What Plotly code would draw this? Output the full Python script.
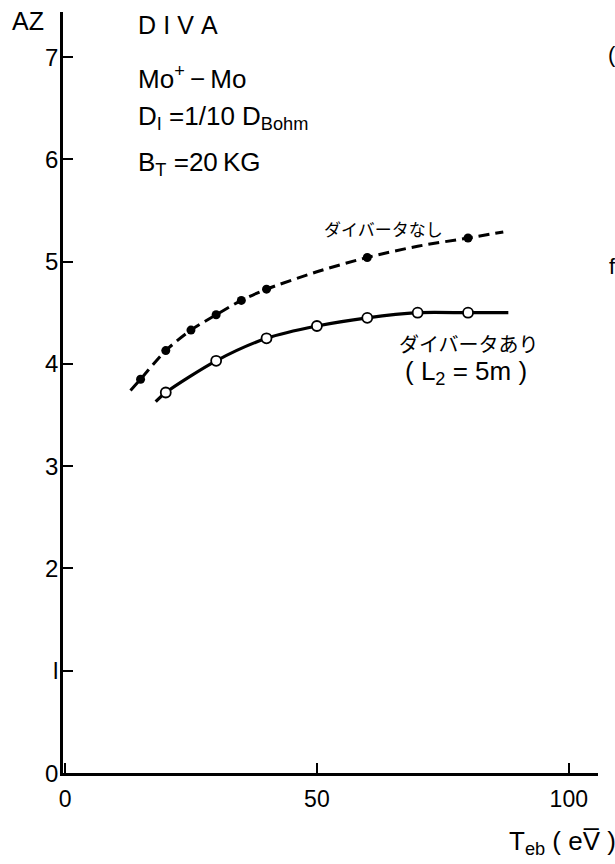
import plotly.graph_objects as go

# Measured points (electron temperature at boundary vs. mean charge AZ)
teb_without = [15, 20, 25, 30, 35, 40, 60, 80]
az_without = [3.85, 4.13, 4.33, 4.48, 4.62, 4.73, 5.04, 5.23]

teb_with = [20, 30, 40, 50, 60, 70, 80]
az_with = [3.72, 4.03, 4.25, 4.37, 4.45, 4.50, 4.50]

# Hand-drawn trend curves through the points
curve_without_x = [13, 15, 20, 25, 30, 35, 40, 50, 60, 70, 80, 87]
curve_without_y = [3.74, 3.85, 4.13, 4.33, 4.48, 4.62, 4.73, 4.90, 5.04, 5.15, 5.23, 5.29]

curve_with_x = [18, 20, 30, 40, 50, 60, 70, 80, 88]
curve_with_y = [3.63, 3.72, 4.03, 4.25, 4.37, 4.45, 4.50, 4.50, 4.50]

x_ticks = [0, 50, 100]
y_ticks = [0, 1, 2, 3, 4, 5, 6, 7]
y_tick_text = ["0", "l", "2", "3", "4", "5", "6", "7"]

FONT = "Liberation Sans, Arial, sans-serif"
JP_FONT = "Noto Sans CJK JP"

W, H = 615, 864
ML, MR, MT, MB = 63, 17, 12, 91
pw, ph = W - ML - MR, H - MT - MB

fig = go.Figure()

fig.add_trace(go.Scatter(
    x=curve_without_x, y=curve_without_y, mode="lines",
    line=dict(color="black", width=3, dash="11px,6px", shape="spline", smoothing=0.8),
    hoverinfo="skip", showlegend=False))
fig.add_trace(go.Scatter(
    x=curve_with_x, y=curve_with_y, mode="lines",
    line=dict(color="black", width=3.2, shape="spline", smoothing=0.8),
    hoverinfo="skip", showlegend=False))
fig.add_trace(go.Scatter(
    x=teb_without, y=az_without, mode="markers",
    marker=dict(color="black", size=9, line=dict(width=0)),
    showlegend=False))
fig.add_trace(go.Scatter(
    x=teb_with, y=az_with, mode="markers",
    marker=dict(color="white", size=10, line=dict(color="black", width=1.8)),
    showlegend=False))

# Free-standing labels, placed in pixels and converted to paper coordinates
labels = [
    dict(x=28, y=21, text="AZ", font=dict(size=25)),
    dict(x=136, y=25, text="D\u2009\u200aI\u2009\u200aV\u2009\u200aA", xanchor="left", font=dict(size=25)),
    dict(x=136, y=78, text="Mo<sup>+</sup>\u2009\u2212\u2009Mo", xanchor="left", font=dict(size=26)),
    dict(x=136, y=118, text="D<sub>I</sub> =1/10 D<sub>Bohm</sub>", xanchor="left", font=dict(size=26)),
    dict(x=136, y=163, text="B<sub>T</sub> =20\u2009KG", xanchor="left", font=dict(size=26)),
    dict(x=322, y=228, text="ダイバータなし", xanchor="left",
         font=dict(size=17, family=JP_FONT)),
    dict(x=397, y=343, text="ダイバータあり", xanchor="left",
         font=dict(size=20, family=JP_FONT)),
    dict(x=403, y=372, text="( L<sub>2</sub> = 5m )", xanchor="left", font=dict(size=26)),
    dict(x=507, y=842, text="T<sub>eb</sub> ( eV\u0305 )", xanchor="left", font=dict(size=26)),
    dict(x=606, y=55, text="(", xanchor="left", font=dict(size=22)),
    dict(x=607, y=266, text="f", xanchor="left", font=dict(size=22)),
]
annotations = []
for a in labels:
    a.update(xref="paper", yref="paper", showarrow=False, yanchor="middle")
    a.setdefault("xanchor", "center")
    a["font"].setdefault("family", FONT)
    a["font"]["color"] = "black"
    a["x"] = (a["x"] - ML) / pw
    a["y"] = 1 - (a["y"] - MT) / ph
    annotations.append(a)

# Y tick labels sit a little closer to the axis than the default placement
for v, t in zip(y_ticks, y_tick_text):
    annotations.append(dict(
        x=(60 - ML) / pw, xref="paper", y=v, yref="y", text=t, showarrow=False,
        xanchor="right", yanchor="middle",
        font=dict(size=24, family=FONT, color="black")))

fig.update_layout(
    width=W, height=H,
    margin=dict(l=ML, r=MR, t=MT, b=MB, pad=0),
    paper_bgcolor="white", plot_bgcolor="white",
    annotations=annotations,
    font=dict(family=FONT, color="black", size=22),
)
fig.update_xaxes(
    range=[-0.4, 105.8], tickvals=x_ticks, ticktext=[str(v) for v in x_ticks],
    showgrid=False, zeroline=False, showline=True, linecolor="black", linewidth=2.5,
    ticks="inside", ticklen=10, tickwidth=2, tickcolor="black",
    tickfont=dict(size=23, family=FONT), ticklabelstandoff=4,
)
fig.update_yaxes(
    range=[0, 7.44], tickvals=y_ticks, showticklabels=False,
    showgrid=False, zeroline=False, showline=True, linecolor="black", linewidth=2.5,
    ticks="inside", ticklen=10, tickwidth=2, tickcolor="black",
)

fig.write_html("out.html")
